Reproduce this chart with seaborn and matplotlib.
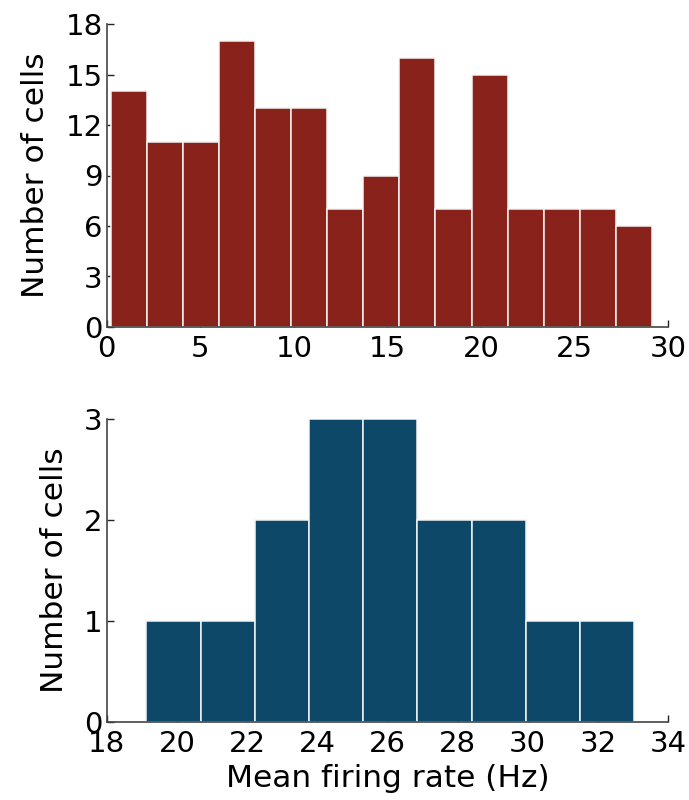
import numpy as np
import pandas as pd
import matplotlib
matplotlib.use("Agg")
import matplotlib.pyplot as plt
import seaborn as sns

# Top histogram: firing-rate distribution, population A
top_edges_lo, top_edges_hi, top_nbins = 0.2, 29.15, 15
top_counts = [14, 11, 11, 17, 13, 13, 7, 9, 16, 7, 15, 7, 7, 7, 6]
top_xticks = [0, 5, 10, 15, 20, 25, 30]
top_yticks = [0, 3, 6, 9, 12, 15, 18]

# Bottom histogram: mean firing rate, population B
bot_edges_lo, bot_edges_hi, bot_nbins = 19.13, 33.04, 9
bot_counts = [1, 1, 2, 3, 3, 2, 2, 1, 1]
bot_xticks = [18, 20, 22, 24, 26, 28, 30, 32, 34]
bot_yticks = [0, 1, 2, 3]

ylabel = "Number of cells"
xlabel = "Mean firing rate (Hz)"

sns.set_theme(style="ticks")
plt.rcParams["font.family"] = ["DejaVu Sans"]
plt.rcParams["text.color"] = "black"
plt.rcParams["axes.labelcolor"] = "black"
plt.rcParams["xtick.color"] = "black"
plt.rcParams["ytick.color"] = "black"

fig = plt.figure(figsize=(6.89, 8.0), dpi=100)
ax1 = fig.add_axes([0.155, 0.59125, 0.8145, 0.37875])
ax2 = fig.add_axes([0.155, 0.0975, 0.8145, 0.37875])


def draw(ax, lo, hi, n, counts, color, xticks, yticks):
    edges = np.linspace(lo, hi, n + 1)
    centers = (edges[:-1] + edges[1:]) / 2
    df = pd.DataFrame({"rate": centers, "count": counts})
    sns.histplot(data=df, x="rate", weights="count", bins=edges.tolist(),
                 color=color, alpha=1.0, edgecolor="#f4f4f4", linewidth=1.1,
                 ax=ax)
    ax.set_xlim(xticks[0], xticks[-1])
    ax.set_ylim(yticks[0], yticks[-1])
    ax.set_xticks(xticks)
    ax.set_yticks(yticks)
    ax.set_ylabel(ylabel, fontsize=22.5, labelpad=11, color="black")
    ax.set_xlabel("")
    for side in ("top", "right"):
        ax.spines[side].set_visible(False)
    for side in ("left", "bottom"):
        ax.spines[side].set_color("#444444")
        ax.spines[side].set_linewidth(1.2)
    ax.tick_params(direction="in", length=5, width=1, color="#222222",
                   labelsize=21, labelcolor="black")
    ax.tick_params(axis="y", pad=3)
    ax.tick_params(axis="x", pad=6)


draw(ax1, top_edges_lo, top_edges_hi, top_nbins, top_counts, "#89221B",
     top_xticks, top_yticks)
draw(ax2, bot_edges_lo, bot_edges_hi, bot_nbins, bot_counts, "#0E4868",
     bot_xticks, bot_yticks)
ax2.set_xlabel(xlabel, fontsize=22.5, labelpad=4, color="black")

fig.savefig("out.png", dpi=100, facecolor="white")
